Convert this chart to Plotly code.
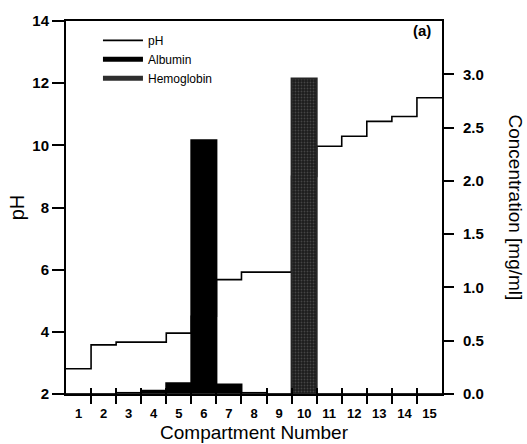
import plotly.graph_objects as go

compartments = list(range(1, 16))
ph_values = [2.81, 3.58, 3.67, 3.67, 3.96, 4.5, 5.68, 5.92, 5.92, 9.0, 9.97, 10.29, 10.77, 10.93, 11.53]
albumin = [0.0, 0.0, 0.01, 0.03, 0.10, 2.38, 0.09, 0.01, 0.0, 0.0, 0.0, 0.0, 0.0, 0.0, 0.0]
hemoglobin = [0, 0, 0, 0, 0, 0, 0, 0, 0, 2.96, 0, 0, 0, 0, 0]
x_tick_labels = [str(c) for c in compartments]
ph_ticks = [2, 4, 6, 8, 10, 12, 14]
conc_ticks = [0.0, 0.5, 1.0, 1.5, 2.0, 2.5, 3.0]

FONT = "Liberation Sans, Arial, sans-serif"

bounds = [c - 0.5 for c in compartments] + [compartments[-1] + 0.5]
ph_step = ph_values + [ph_values[-1]]
inner_bounds = [c + 0.5 for c in compartments[:-1]]

fig = go.Figure()
fig.add_trace(go.Scatter(x=bounds, y=ph_step, mode="lines", line_shape="hv",
                         line=dict(color="black", width=1.6), name="pH", yaxis="y"))
fig.add_trace(go.Scatter(x=bounds, y=ph_step, mode="lines", line=dict(width=0), opacity=0,
                         xaxis="x2", yaxis="y", showlegend=False, hoverinfo="skip"))
fig.add_trace(go.Bar(x=compartments, y=albumin, width=1,
                     marker=dict(color="black", line=dict(width=2, color="black")),
                     name="Albumin", yaxis="y2", showlegend=False))
fig.add_trace(go.Bar(x=compartments, y=hemoglobin, width=1,
                     marker=dict(color="#1c1c1c", line=dict(width=2, color="#262626"),
                                 pattern=dict(shape=".", fgcolor="#6e6e6e", size=3, solidity=0.3)),
                     name="Hemoglobin", yaxis="y2", showlegend=False))
fig.add_trace(go.Scatter(x=[None], y=[None], mode="lines", line=dict(color="black", width=5),
                         name="Albumin", yaxis="y2"))
fig.add_trace(go.Scatter(x=[None], y=[None], mode="lines", line=dict(color="#2e2e2e", width=5),
                         name="Hemoglobin", yaxis="y2"))

fig.update_layout(
    width=527, height=444,
    margin=dict(l=66, r=85, t=21, b=50),
    paper_bgcolor="white", plot_bgcolor="white",
    font=dict(family=FONT, color="black", size=13),
    barmode="overlay",
    showlegend=True,
    legend=dict(x=0.085, y=0.987, xanchor="left", yanchor="top", bgcolor="rgba(0,0,0,0)",
                font=dict(size=12), tracegroupgap=0, itemwidth=40),
    xaxis=dict(range=[0.5, 15.5], tickmode="array", tickvals=compartments, ticktext=x_tick_labels,
               ticks="", ticklen=0, ticklabelstandoff=6, automargin=False,
               minor=dict(tickmode="array", tickvals=inner_bounds, ticks="outside", ticklen=8,
                          tickwidth=1.5, tickcolor="black", showgrid=False),
               showgrid=False, zeroline=False, showline=True, linecolor="black", linewidth=2,
               mirror=True, tickfont=dict(size=13, weight="bold"),
               title=dict(text="Compartment Number", font=dict(size=19), standoff=6)),
    xaxis2=dict(overlaying="x", anchor="y", side="bottom", range=[0.5, 15.5], tickmode="array",
                tickvals=inner_bounds, ticks="inside", ticklen=6, tickwidth=1.5, automargin=False,
                tickcolor="black", showticklabels=False, showgrid=False, zeroline=False, showline=False),
    yaxis=dict(range=[2, 14], tickmode="array", tickvals=ph_ticks, ticks="outside", ticklen=12,
               tickwidth=1.5, tickcolor="black", showgrid=False, zeroline=False, showline=True,
               linecolor="black", linewidth=2, tickfont=dict(size=15, weight="bold"),
               ticklabelstandoff=0, automargin=False,
               title=dict(text="pH", font=dict(size=20), standoff=2)),
    yaxis2=dict(overlaying="y", side="right", range=[0, 3.5], tickmode="array", tickvals=conc_ticks,
                ticktext=[f"{v:.1f}" for v in conc_ticks], ticks="outside", ticklen=10, tickwidth=1.5,
                tickcolor="black", showgrid=False, zeroline=False, showline=True, linecolor="black",
                linewidth=2, tickfont=dict(size=15, weight="bold"), ticklabelstandoff=6,
                automargin=False),
    annotations=[
        dict(text="(a)", x=(422 - 66) / 376, y=(394 - 30) / 373, xref="paper", yref="paper",
             xanchor="center", yanchor="middle", showarrow=False, font=dict(size=15, weight="bold")),
        dict(text="Concentration [mg/ml]", x=(515 - 66) / 376, y=0.5, xref="paper",
             yref="paper", xanchor="center", yanchor="middle", showarrow=False, textangle=90,
             font=dict(size=19)),
    ],
)
fig.write_html("out.html", config={"displayModeBar": False},
               post_script="document.body.style.margin='0';document.body.style.overflow='hidden';")
